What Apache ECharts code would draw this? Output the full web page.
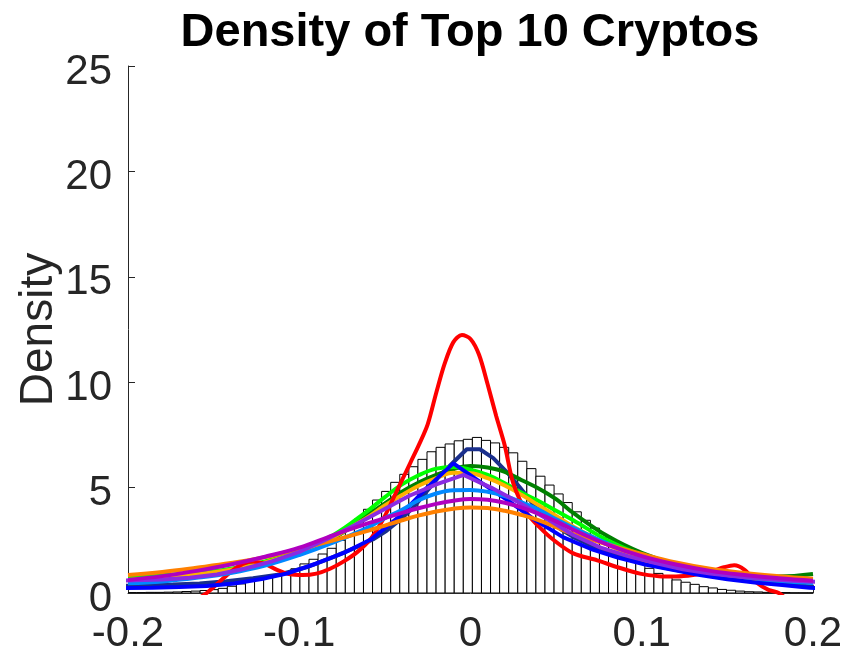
<!DOCTYPE html>
<html>
<head>
<meta charset="utf-8">
<script src="https://cdn.jsdelivr.net/npm/echarts@6/dist/echarts.min.js"></script>
<style>
html,body{margin:0;padding:0;background:#fff;}
#chart{width:846px;height:655px;}
</style>
</head>
<body>
<div id="chart"></div>
<script>
// ---- Data ----
const titleText = 'Density of Top 10 Cryptos';
const yAxisName = 'Density';
const xTickLabels = ['-0.2', '-0.1', '0', '0.1', '0.2'];

// histogram (density) of pooled returns
const binStart = -0.2003;
const binWidth = 0.0053;
const histValues = [0.02,0.02,0.03,0.03,0.04,0.05,0.07,0.09,0.12,0.16,0.22,0.32,0.43,0.55,0.65,0.75,0.87,1.00,1.15,1.38,1.60,1.85,2.12,2.50,3.02,3.51,3.97,4.41,4.82,5.25,5.63,5.99,6.34,6.70,6.91,7.07,7.22,7.29,7.38,7.24,7.12,6.91,6.65,6.25,5.90,5.54,5.12,4.70,4.29,3.85,3.45,3.08,2.64,2.31,1.99,1.71,1.45,1.17,0.93,0.77,0.62,0.51,0.41,0.30,0.24,0.17,0.13,0.09,0.06,0.05,0.03,0.02,0.02,0.01,0.01,0.01];

// shared evaluation grid for smooth density curves
const gridX = [-0.2,-0.18,-0.16,-0.14,-0.12,-0.1,-0.08,-0.06,-0.05,-0.04,-0.03,-0.02,-0.01,0,0.01,0.02,0.03,0.04,0.05,0.06,0.08,0.1,0.12,0.14,0.16,0.18,0.2];
const orangeY  = [0.85,1.0,1.2,1.42,1.7,2.1,2.5,2.95,3.2,3.45,3.68,3.87,4.0,4.06,4.03,3.9,3.7,3.45,3.12,2.8,2.3,1.85,1.45,1.15,0.95,0.8,0.68];
const magentaY = [0.62,0.8,1.05,1.35,1.72,2.15,2.75,3.3,3.55,3.8,4.03,4.23,4.38,4.46,4.42,4.28,4.05,3.75,3.4,3.0,2.3,1.75,1.35,1.05,0.85,0.7,0.58];
const dodgerY  = [0.46,0.55,0.72,0.95,1.3,1.8,2.4,3.1,3.55,3.95,4.41,4.72,4.88,4.89,4.8,4.6,4.3,3.95,3.5,3.1,2.35,1.75,1.3,0.98,0.75,0.58,0.47];
const greenY   = [0.78,0.8,0.88,1.05,1.4,1.9,2.6,3.7,4.25,4.8,5.25,5.6,5.88,6.02,5.95,5.75,5.35,4.95,4.45,3.8,2.7,1.9,1.35,1.05,0.85,0.78,0.9];
const limeY    = [0.78,0.85,0.95,1.15,1.5,2.0,2.75,3.9,4.55,5.15,5.6,5.9,5.98,5.85,5.6,5.2,4.75,4.35,3.9,3.45,2.5,1.8,1.3,1.0,0.8,0.68,0.6];
const goldY    = [0.62,0.72,0.88,1.1,1.45,1.95,2.65,3.6,4.15,4.65,5.1,5.45,5.7,5.68,5.45,5.1,4.65,4.15,3.65,3.15,2.3,1.6,1.15,0.92,0.78,0.68,0.6];

// curves evaluated on coarser grids (visible kinks)
const navyX = [-0.205,-0.1894,-0.1738,-0.1582,-0.1426,-0.127,-0.1114,-0.0958,-0.0802,-0.0646,-0.0568,-0.049,-0.0412,-0.0334,-0.0256,-0.0178,-0.01,-0.0022,0.0055,0.0133,0.0211,0.0289,0.0367,0.0445,0.0523,0.0601,0.0757,0.0913,0.1069,0.1225,0.1381,0.1537,0.1693,0.1849,0.2005];
const navyY = [0.34,0.36,0.4,0.45,0.56,0.7,0.88,1.22,1.7,2.25,2.55,2.95,3.46,4.05,4.82,5.58,6.2,6.82,6.82,6.4,5.75,5.0,4.2,3.55,3.05,2.65,2.05,1.6,1.3,1.05,0.85,0.68,0.52,0.4,0.3];
const blueX = [-0.202,-0.186,-0.17,-0.154,-0.138,-0.122,-0.106,-0.09,-0.074,-0.058,-0.042,-0.026,-0.01,0.006,0.022,0.038,0.054,0.07,0.086,0.102,0.118,0.134,0.15,0.166,0.182,0.198,0.214];
const blueY = [0.24,0.25,0.28,0.33,0.45,0.66,0.95,1.4,1.9,2.55,3.6,4.95,6.15,5.25,4.38,3.45,2.65,2.1,1.68,1.35,1.1,0.85,0.65,0.5,0.38,0.25,0.2];
const violetX = [-0.212,-0.196,-0.18,-0.164,-0.148,-0.132,-0.116,-0.1,-0.084,-0.068,-0.052,-0.036,-0.02,-0.004,0.012,0.028,0.044,0.06,0.076,0.092,0.108,0.124,0.14,0.156,0.172,0.188,0.204];
const violetY = [0.58,0.6,0.64,0.72,0.88,1.15,1.5,1.95,2.55,3.2,3.9,4.6,5.15,5.6,5.0,4.3,3.55,2.75,2.15,1.75,1.42,1.12,0.92,0.78,0.66,0.58,0.52];

// sharply peaked curve
const redX = [-0.162,-0.154,-0.147,-0.14,-0.133,-0.127,-0.12,-0.113,-0.106,-0.098,-0.09,-0.082,-0.074,-0.066,-0.058,-0.051,-0.045,-0.04,-0.035,-0.03,-0.025,-0.02,-0.015,-0.01,-0.005,0,0.005,0.01,0.015,0.02,0.025,0.033,0.04,0.048,0.06,0.074,0.086,0.099,0.11,0.12,0.13,0.14,0.148,0.154,0.16,0.167,0.174,0.18,0.186];
const redY = [-0.4,0,0.5,1.0,1.38,1.5,1.38,1.1,0.9,0.85,0.92,1.15,1.5,1.95,2.6,3.5,4.5,5.35,6.2,7.05,8.0,9.5,10.9,11.9,12.24,12.05,11.3,9.9,8.4,7.0,5.2,3.78,3.15,2.55,1.88,1.55,1.22,0.92,0.8,0.78,0.85,1.0,1.22,1.32,1.1,0.5,0.15,0,-0.4];

// ---- Build ----
const FONT = "'Liberation Sans', Arial, Helvetica, sans-serif";
const AX = '#262626';
const zip = (xs, ys) => xs.map((x, i) => [x, ys[i]]);
const histData = histValues.map((v, i) => [binStart + i * binWidth, binStart + (i + 1) * binWidth, v]);

function curve(name, xs, ys, color, smooth) {
  return {
    name: name, type: 'line', data: zip(xs, ys), showSymbol: false, symbol: 'none',
    smooth: smooth, clip: true,
    lineStyle: { color: color, width: 4 }, z: 3
  };
}

const chart = echarts.init(document.getElementById('chart'), null, { renderer: 'canvas' });
chart.setOption({
  animation: false,
  backgroundColor: '#ffffff',
  title: {
    text: titleText, left: 465, top: 5, textAlign: 'center',
    textStyle: { fontFamily: FONT, fontSize: 47, fontWeight: 'bold', color: '#000' }
  },
  grid: { left: 128, right: 33, top: 66, bottom: 62, containLabel: false },
  xAxis: {
    type: 'value', min: -0.2, max: 0.2, interval: 0.1,
    axisLine: { show: true, onZero: false, lineStyle: { color: AX, width: 1 } },
    axisTick: { show: true, inside: true, length: 7, lineStyle: { color: AX } },
    axisLabel: {
      margin: 20, fontFamily: FONT, fontSize: 42, color: AX,
      formatter: v => xTickLabels[Math.round((v + 0.2) / 0.1)]
    },
    splitLine: { show: false }
  },
  yAxis: {
    type: 'value', min: 0, max: 25, interval: 5,
    name: yAxisName, nameLocation: 'middle', nameGap: 66, nameRotate: 90,
    nameMoveOverlap: false,
    nameTextStyle: { fontFamily: FONT, fontSize: 46, color: AX },
    axisLine: { show: true, onZero: false, lineStyle: { color: AX, width: 1 } },
    axisTick: { show: true, inside: true, length: 7, lineStyle: { color: AX } },
    axisLabel: {
      margin: 16, color: AX,
      formatter: v => '{t|' + v + '}',
      rich: { t: { fontFamily: FONT, fontSize: 42, color: AX, padding: [12, 0, 0, 0] } }
    },
    splitLine: { show: false }
  },
  series: [
    {
      type: 'custom', data: histData, clip: true, z: 1,
      encode: { x: [0, 1], y: 2 },
      renderItem: function (params, api) {
        const x0 = Math.max(api.value(0), -0.2);
        const x1 = Math.min(api.value(1), 0.2);
        const p0 = api.coord([x0, api.value(2)]);
        const p1 = api.coord([x1, 0]);
        return {
          type: 'rect',
          shape: { x: p0[0], y: p0[1], width: p1[0] - p0[0], height: p1[1] - p0[1] },
          style: { fill: '#ffffff', stroke: '#000000', lineWidth: 1 }
        };
      }
    },
    curve('navy', navyX, navyY, '#1a2f8c', false),
    curve('green', gridX, greenY, '#008000', 0.4),
    curve('lime', gridX, limeY, '#00ff00', 0.4),
    curve('gold', gridX, goldY, '#ffb000', 0.4),
    curve('red', redX, redY, '#ff0000', 0.3),
    curve('blue', blueX, blueY, '#0000ff', false),
    curve('dodger', gridX, dodgerY, '#0088ff', 0.4),
    curve('orange', gridX, orangeY, '#ff8000', 0.4),
    curve('violet', violetX, violetY, '#8a2be2', false),
    curve('magenta', gridX, magentaY, '#b000c0', 0.4)
  ]
});
</script>
</body>
</html>
